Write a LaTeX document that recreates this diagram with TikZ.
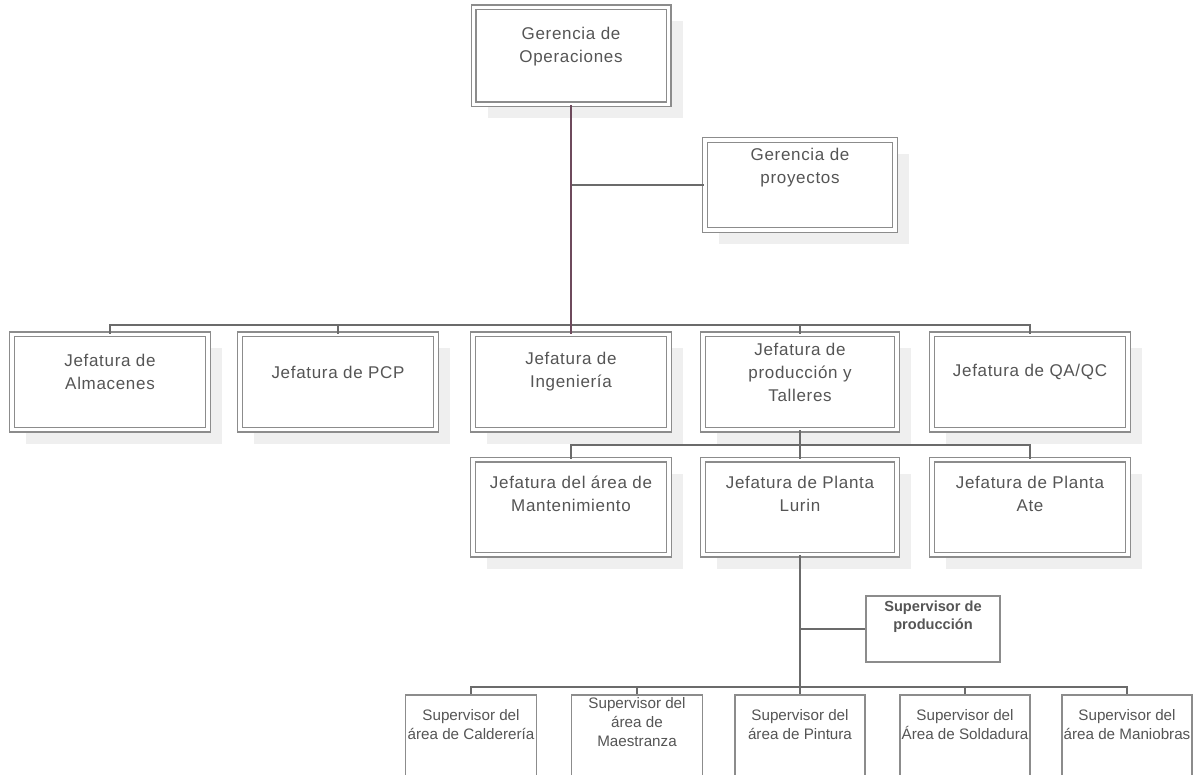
\documentclass[tikz,border=0pt]{standalone}
\usepackage{fontspec}
\setmainfont{Liberation Sans}
\newfontfamily\jefafont[LetterSpace=4]{Liberation Sans}
\usetikzlibrary{shadows}
\definecolor{txtgray}{HTML}{555555}
\definecolor{boxgray}{HTML}{8C8C8C}
\definecolor{linegray}{HTML}{6B6B6B}
\definecolor{mainmaroon}{HTML}{6E4A5C}
\tikzset{
	jbox/.style={draw=boxgray, double=white, double distance=1.6pt, line width=0.7pt, fill=white,
		drop shadow={shadow xshift=7pt, shadow yshift=-7pt, fill=black!12}},
	jtxt/.style={font=\jefafont\fontsize{8.5}{11.5}\selectfont, text=txtgray, align=center},
	sbox/.style={draw=boxgray, line width=0.8pt, fill=white},
	stxt/.style={font=\fontsize{7.6}{9.5}\selectfont, text=txtgray, align=center},
	conn/.style={draw=linegray, line width=0.9pt},
	mainconn/.style={draw=mainmaroon, line width=1.3pt}
}

\begin{document}
\begin{tikzpicture}[x=0.5pt, y=-0.5pt]
		%%%%% START %%%%%
		\useasboundingbox[fill=white] (0, 0) rectangle (1200, 775);
		\clip (0, 0) rectangle (1200, 775);
		
		\coordinate (bus1) at (0, 325);
		\coordinate (bus2) at (0, 445);
		\coordinate (bus3) at (0, 687);
		
		% gerencias
		\node[jbox, minimum width=97.5pt, minimum height=48.5pt,
			label={[jtxt, yshift=4.5pt]center:{Gerencia de\\Operaciones}}] (gop) at (571, 56) {};
		\node[jbox, minimum width=95pt, minimum height=45pt,
			label={[jtxt, yshift=8.5pt]center:{Gerencia de\\proyectos}}] (proy) at (800, 185) {};
		
		% jefaturas
		\node[jbox, minimum width=98pt, minimum height=47.5pt,
			label={[jtxt, yshift=5pt]center:{Jefatura de\\Almacenes}}] (alm) at (110, 382) {};
		\node[jbox, minimum width=98pt, minimum height=47.5pt,
			label={[jtxt, yshift=5pt]center:{Jefatura de PCP}}] (pcp) at (338, 382) {};
		\node[jbox, minimum width=98pt, minimum height=47.5pt,
			label={[jtxt, yshift=5pt]center:{Jefatura de\\Ingeniería}}] (ing) at (571, 382) {};
		\node[jbox, minimum width=97pt, minimum height=47.5pt,
			label={[jtxt, yshift=5pt]center:{Jefatura de\\producción y\\Talleres}}] (prod) at (800, 382) {};
		\node[jbox, minimum width=98pt, minimum height=47.5pt,
			label={[jtxt, yshift=5pt]center:{Jefatura de QA/QC}}] (qa) at (1030, 382) {};
		
		\node[jbox, minimum width=98pt, minimum height=47.5pt,
			label={[jtxt, yshift=6.75pt]center:{Jefatura del área de\\Mantenimiento}}] (mant) at (571, 507) {};
		\node[jbox, minimum width=97pt, minimum height=47.5pt,
			label={[jtxt, yshift=6.75pt]center:{Jefatura de Planta\\Lurin}}] (lurin) at (800, 507) {};
		\node[jbox, minimum width=98pt, minimum height=47.5pt,
			label={[jtxt, yshift=6.75pt]center:{Jefatura de Planta\\Ate}}] (ate) at (1030, 507) {};
		
		% supervisores
		\node[sbox, minimum width=67pt, minimum height=33pt,
			label={[stxt, font=\bfseries\fontsize{7.3}{9}\selectfont, yshift=6pt]center:{Supervisor de\\producción}}] (supp) at (933, 629) {};
		
		\node[sbox, minimum width=65.5pt, minimum height=55pt,
			label={[stxt, yshift=12.5pt]center:{Supervisor del\\área de Calderería}}] (cald) at (471, 750) {};
		\node[sbox, minimum width=65.5pt, minimum height=55pt,
			label={[stxt, yshift=14pt]center:{Supervisor del\\área de\\Maestranza}}] (maes) at (637, 750) {};
		\node[sbox, minimum width=65pt, minimum height=55pt,
			label={[stxt, yshift=12.5pt]center:{Supervisor del\\área de Pintura}}] (pint) at (800, 750) {};
		\node[sbox, minimum width=65pt, minimum height=55pt,
			label={[stxt, yshift=12.5pt]center:{Supervisor del\\Área de Soldadura}}] (sold) at (965, 750) {};
		\node[sbox, minimum width=65pt, minimum height=55pt,
			label={[stxt, yshift=12.5pt]center:{Supervisor del\\área de Maniobras}}] (mani) at (1127, 750) {};
		
		% conectores
		\draw[conn] (gop.south |- proy.west) -- (proy.west);
		\draw[conn] (alm.north) |- (bus1 -| qa.north) -- (qa.north);
		\foreach \n in {pcp, prod}
			\draw[conn] (\n.north) -- (\n.north |- bus1);
		
		\draw[conn] (prod.south) -- (lurin.north);
		\draw[conn] (mant.north) |- (bus2 -| ate.north) -- (ate.north);
		
		\draw[conn] (lurin.south) -- (pint.north);
		\draw[conn] (lurin.south |- supp.west) -- (supp.west);
		\draw[conn] (cald.north) |- (bus3 -| mani.north) -- (mani.north);
		\foreach \n in {maes, sold}
			\draw[conn] (\n.north) -- (\n.north |- bus3);
		
		\draw[mainconn] (gop.south) -- (ing.north);
		
		%%%%% END %%%%%
\end{tikzpicture}
\end{document}
